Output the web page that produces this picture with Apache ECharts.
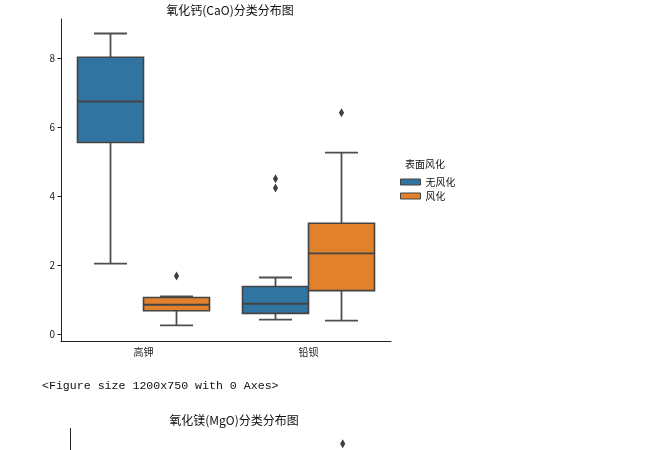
<!DOCTYPE html>
<html>
<head>
<meta charset="utf-8">
<script src="https://cdn.jsdelivr.net/npm/echarts@6/dist/echarts.min.js"></script>
<style>html,body{margin:0;padding:0;background:#fff}#c{width:664px;height:450px}</style>
</head>
<body>
<div id="c"></div>
<script>
// ---- data ----
const categories = ['高钾', '铅钡'];
const hueNames = ['无风化', '风化'];
// [min, Q1, median, Q3, max] per category
const caoNoWeather = [[2.04, 5.55, 6.74, 8.02, 8.71], [0.42, 0.60, 0.88, 1.38, 1.64]];
const caoWeathered = [[0.25, 0.675, 0.85, 1.06, 1.09], [0.39, 1.26, 2.34, 3.21, 5.26]];
// outliers [categoryIndex, value]
const caoNoWeatherOut = [[1, 4.50], [1, 4.23]];
const caoWeatheredOut = [[0, 1.68], [1, 6.41]];
const yTicks = [0, 2, 4, 6, 8];
// second (cut-off) chart
const mgoWeatheredOut = [[1, 1.9]];

const colors = ['#3274a1', '#e1812c'];
const lineGray = '#4f4f4f';
const edgeGray = '#444444';

function boxRenderer(hueIdx) {
  return function (params, api) {
    const cat = api.value(0);
    const band = api.size([1, 0])[0];
    const w = band * 0.4;
    const cx = api.coord([cat, 0])[0] + (hueIdx - 0.5) * w;
    const y = v => api.coord([cat, v])[1];
    const mn = y(api.value(1)), q1 = y(api.value(2)), md = y(api.value(3)), q3 = y(api.value(4)), mx = y(api.value(5));
    const lw = { stroke: lineGray, lineWidth: 1.8 };
    const capW = w * 0.5;
    return {
      type: 'group',
      children: [
        { type: 'line', shape: { x1: cx, y1: q3, x2: cx, y2: mx }, style: lw },
        { type: 'line', shape: { x1: cx, y1: q1, x2: cx, y2: mn }, style: lw },
        { type: 'line', shape: { x1: cx - capW / 2, y1: mx, x2: cx + capW / 2, y2: mx }, style: lw },
        { type: 'line', shape: { x1: cx - capW / 2, y1: mn, x2: cx + capW / 2, y2: mn }, style: lw },
        { type: 'rect', shape: { x: cx - w / 2, y: q3, width: w, height: q1 - q3 },
          style: { fill: colors[hueIdx], stroke: edgeGray, lineWidth: 1.6 } },
        { type: 'line', shape: { x1: cx - w / 2, y1: md, x2: cx + w / 2, y2: md }, style: { stroke: edgeGray, lineWidth: 1.8 } }
      ]
    };
  };
}
function outlierRenderer(hueIdx) {
  return function (params, api) {
    const cat = api.value(0);
    const band = api.size([1, 0])[0];
    const w = band * 0.4;
    const p = api.coord([cat, api.value(1)]);
    const cx = p[0] + (hueIdx - 0.5) * w, cy = p[1];
    return {
      type: 'polygon',
      shape: { points: [[cx, cy - 4.5], [cx + 2.6, cy], [cx, cy + 4.5], [cx - 2.6, cy]] },
      style: { fill: '#3f3f3f' }
    };
  };
}
function toRows(stats) { return stats.map((s, i) => [i].concat(s)); }

const font = 'Noto Sans CJK SC';
const chart = echarts.init(document.getElementById('c'), null, { renderer: 'canvas' });
chart.setOption({
  animation: false,
  backgroundColor: '#fff',
  title: [
    { text: '氧化钙(CaO)分类分布图', left: 225, top: -1, textAlign: 'center',
      textStyle: { fontFamily: font, fontSize: 12, fontWeight: 'normal', color: '#111' } },
    { text: '氧化镁(MgO)分类分布图', left: 229, top: 409, textAlign: 'center',
      textStyle: { fontFamily: font, fontSize: 12, fontWeight: 'normal', color: '#111' } }
  ],
  legend: {
    orient: 'vertical', left: 395, top: 172, itemWidth: 20, itemHeight: 6, itemGap: 4,
    icon: 'rect',
    data: hueNames.map((n, i) => ({ name: n, itemStyle: { color: colors[i], borderColor: edgeGray, borderWidth: 1 } })),
    textStyle: { fontFamily: font, fontSize: 10, color: '#111', padding: [0, 0, 0, 0] }
  },
  graphic: [
    { type: 'text', left: 405, top: 159, style: { text: '表面风化', font: '10px "Noto Sans CJK SC"', fill: '#111' } },
    { type: 'text', left: 42, top: 380, style: { text: '<Figure size 1200x750 with 0 Axes>', font: '11.6px "Liberation Mono"', fill: '#111' } }
  ],
  grid: [
    { left: 61, top: 19, width: 330, height: 322, outerBoundsMode: 'none' },
    { left: 70.7, top: 428.5, width: 320, height: 322, outerBoundsMode: 'none' }
  ],
  xAxis: [
    { type: 'category', data: categories, gridIndex: 0,
      axisLine: { onZero: false, lineStyle: { color: '#222', width: 1 } },
      axisTick: { alignWithLabel: true, length: 3.5, lineStyle: { color: '#222' } },
      axisLabel: { fontFamily: font, fontSize: 10, color: '#222', margin: 6 } },
    { type: 'category', data: categories, gridIndex: 1, show: false }
  ],
  yAxis: [
    { type: 'value', gridIndex: 0, min: -0.2, max: 9.13,
      splitLine: { show: false },
      axisLine: { show: true, onZero: false, lineStyle: { color: '#222', width: 1 } },
      axisTick: { show: true, length: 3.5, customValues: yTicks, lineStyle: { color: '#222' } },
      axisLabel: { fontFamily: font, fontSize: 10, color: '#222', margin: 6, customValues: yTicks } },
    { type: 'value', gridIndex: 1, min: -0.1, max: 2.0,
      splitLine: { show: false },
      axisLine: { show: true, onZero: false, lineStyle: { color: '#222', width: 1 } },
      axisTick: { show: false }, axisLabel: { show: false } }
  ],
  series: [
    { type: 'custom', name: hueNames[0], xAxisIndex: 0, yAxisIndex: 0, renderItem: boxRenderer(0),
      data: toRows(caoNoWeather), itemStyle: { color: colors[0] }, encode: { x: 0, y: [1, 2, 3, 4, 5] } },
    { type: 'custom', name: hueNames[1], xAxisIndex: 0, yAxisIndex: 0, renderItem: boxRenderer(1),
      data: toRows(caoWeathered), itemStyle: { color: colors[1] }, encode: { x: 0, y: [1, 2, 3, 4, 5] } },
    { type: 'custom', name: hueNames[0], xAxisIndex: 0, yAxisIndex: 0, renderItem: outlierRenderer(0),
      data: caoNoWeatherOut, itemStyle: { color: colors[0] }, encode: { x: 0, y: 1 } },
    { type: 'custom', name: hueNames[1], xAxisIndex: 0, yAxisIndex: 0, renderItem: outlierRenderer(1),
      data: caoWeatheredOut, itemStyle: { color: colors[1] }, encode: { x: 0, y: 1 } },
    { type: 'custom', name: 'mgo-out', xAxisIndex: 1, yAxisIndex: 1, renderItem: outlierRenderer(1),
      data: mgoWeatheredOut, encode: { x: 0, y: 1 } }
  ]
});
</script>
</body>
</html>
